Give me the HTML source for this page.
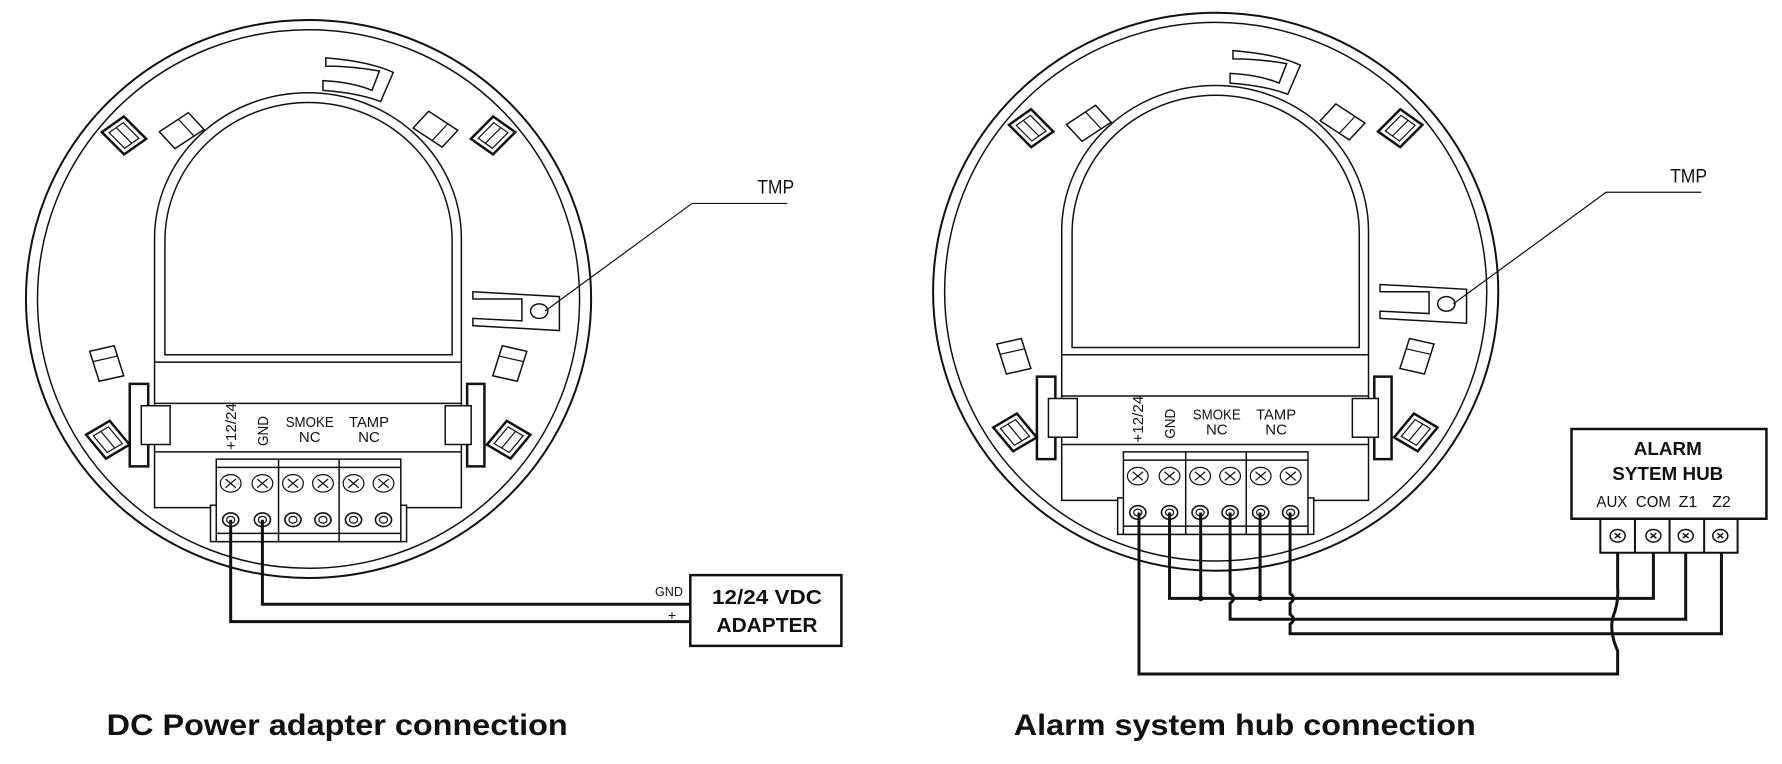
<!DOCTYPE html>
<html><head><meta charset="utf-8"><style>
html,body{margin:0;padding:0;background:#fff;width:1782px;height:764px;overflow:hidden}
svg{display:block}
svg *{vector-effect:non-scaling-stroke}
text{font-family:"Liberation Sans",sans-serif;fill:#111}
</style></head><body>
<svg width="1782" height="764" viewBox="0 0 1782 764" xmlns="http://www.w3.org/2000/svg">
<defs>
<g id="sq"><rect x="-25" y="-30" width="50" height="60" fill="none" stroke="#111" stroke-width="2.5"/><rect x="-16" y="-21" width="32" height="42" fill="none" stroke="#111" stroke-width="1.2"/><line x1="0" y1="-21" x2="0" y2="21" stroke="#111" stroke-width="1.2"/></g>
<g id="pl"><rect x="-32" y="-22" width="64" height="44" fill="none" stroke="#111" stroke-width="1.5"/><line x1="10" y1="-22" x2="10" y2="22" stroke="#111" stroke-width="1.2"/></g>
<g id="scr"><circle r="18" fill="none" stroke="#111" stroke-width="1.2"/><path d="M-9,-9 L9,9 M9,-9 L-9,9" stroke="#111" stroke-width="1.2"/></g>
<g id="scb"><circle r="14" fill="none" stroke="#111" stroke-width="1.6"/><circle r="7" fill="none" stroke="#111" stroke-width="1.2"/></g>
<g id="dev" fill="none" stroke="#111" stroke-width="1.5">
<ellipse cx="535" cy="615" rx="490" ry="575" stroke-width="2"/>
<ellipse cx="535" cy="615" rx="470" ry="555"/>
<path d="M268,745 L268,490 A266,300 0 0 1 800,490 L800,745"/>
<path d="M286,730 L286,495 A249,285 0 0 1 784,495 L784,730 Z"/>
<rect x="268" y="745" width="532" height="300"/>
<line x1="268" y1="830" x2="800" y2="830"/>
<line x1="268" y1="930" x2="800" y2="930"/>
<rect x="225" y="790" width="32" height="170" stroke-width="2.5" fill="#fff"/>
<rect x="245" y="835" width="50" height="80" fill="#fff"/>
<rect x="810" y="790" width="30" height="170" stroke-width="2.5" fill="#fff"/>
<rect x="772" y="835" width="45" height="80" fill="#fff"/>
<rect x="365" y="1040" width="340" height="75" fill="#fff"/>
<rect x="375" y="945" width="320" height="170" fill="#fff"/>
<line x1="375" y1="962" x2="695" y2="962"/>
<line x1="483" y1="945" x2="483" y2="1115"/>
<line x1="588" y1="945" x2="588" y2="1115"/>
<line x1="375" y1="1098" x2="695" y2="1098"/>
<use href="#scr" x="400" y="995"/><use href="#scr" x="455" y="995"/><use href="#scr" x="508" y="995"/><use href="#scr" x="560" y="995"/><use href="#scr" x="613" y="995"/><use href="#scr" x="665" y="995"/>
<use href="#scb" x="400" y="1070"/><use href="#scb" x="455" y="1070"/><use href="#scb" x="508" y="1070"/><use href="#scb" x="560" y="1070"/><use href="#scb" x="613" y="1070"/><use href="#scb" x="665" y="1070"/>
<path d="M565,118 Q640,125 682,148 L660,208 Q620,190 560,185 L560,165 Q610,168 645,185 L658,145 Q610,135 565,135 Z"/>
<path d="M820,600 L970,610 L970,680 L820,670 L820,655 L905,660 L905,615 L820,615 Z"/>
<circle cx="935" cy="640" r="15"/>
<use href="#sq" transform="translate(215,278) rotate(-40)"/>
<use href="#sq" transform="translate(855,278) rotate(40)"/>
<use href="#sq" transform="translate(187,905) rotate(-35)"/>
<use href="#sq" transform="translate(882,905) rotate(35)"/>
<use href="#pl" transform="translate(315,268) rotate(-38)"/>
<use href="#pl" transform="translate(755,265) rotate(38)"/>
<use href="#pl" transform="translate(185,748) rotate(-105)"/>
<use href="#pl" transform="translate(884,748) rotate(-75)"/>
</g>
<g id="lbl" stroke="none">
<text transform="translate(236,450) rotate(-90)" font-size="15" textLength="47" lengthAdjust="spacingAndGlyphs">+12/24</text>
<text transform="translate(268,446) rotate(-90)" font-size="15" textLength="30" lengthAdjust="spacingAndGlyphs">GND</text>
<text x="309.7" y="427" font-size="15" text-anchor="middle" textLength="48" lengthAdjust="spacingAndGlyphs">SMOKE</text>
<text x="309.7" y="442" font-size="15" text-anchor="middle">NC</text>
<text x="369" y="427" font-size="15" text-anchor="middle" textLength="40" lengthAdjust="spacingAndGlyphs">TAMP</text>
<text x="369" y="442" font-size="15" text-anchor="middle">NC</text>
</g>
</defs>

<g transform="translate(0,0.6) scale(0.5767,0.4852)">
<use href="#dev"/>
<path d="M945,640 L1200,418 L1365,418" fill="none" stroke="#111" stroke-width="1.2"/>
<path d="M400,1070 V1280 H1197 M455,1070 V1244 H1197" fill="none" stroke="#111" stroke-width="3"/>
<rect x="1197" y="1184" width="262" height="146" fill="none" stroke="#111" stroke-width="2.5"/>
</g>
<use href="#lbl"/>
<text x="775.7" y="193.7" font-size="19" text-anchor="middle" textLength="37" lengthAdjust="spacingAndGlyphs">TMP</text>
<text x="767" y="604" font-size="20" font-weight="bold" text-anchor="middle" textLength="110" lengthAdjust="spacingAndGlyphs">12/24 VDC</text>
<text x="767" y="632" font-size="20" font-weight="bold" text-anchor="middle" textLength="101" lengthAdjust="spacingAndGlyphs">ADAPTER</text>
<text x="669" y="596" font-size="13" text-anchor="middle" textLength="28" lengthAdjust="spacingAndGlyphs">GND</text>
<text x="672" y="620" font-size="14" text-anchor="middle">+</text>
<text x="106.7" y="735" font-size="30" font-weight="bold" textLength="461" lengthAdjust="spacingAndGlyphs">DC Power adapter connection</text>

<g transform="translate(891,0.6) scale(0.5767,0.4852)">
<g transform="translate(28,-15)"><use href="#dev"/></g>
<path d="M975,625 L1240,395 L1405,395" fill="none" stroke="#111" stroke-width="1.2"/>
<g fill="none" stroke="#111" stroke-width="3">
<path d="M430,1055 V1388 H1260 V1340 Q1245,1300 1252,1270 Q1262,1240 1260,1210 V1138"/>
<path d="M483,1055 V1232 H1322 V1138"/>
<path d="M537,1055 V1232 M640,1055 V1232"/>
<path d="M588,1055 V1222 Q600,1232 588,1242 V1275 H1378 V1138"/>
<path d="M692,1055 V1222 Q704,1232 692,1242 V1265 Q704,1275 692,1285 V1305 H1440 V1138"/>
</g>
<ellipse cx="537" cy="1232" rx="5" ry="6" fill="#111"/><ellipse cx="640" cy="1232" rx="5" ry="6" fill="#111"/>
<rect x="1180" y="883" width="338" height="185" fill="none" stroke="#111" stroke-width="2.5"/>
<rect x="1230" y="1068" width="238" height="70" fill="none" stroke="#111" stroke-width="2"/>
<path d="M1290,1068 V1138 M1350,1068 V1138 M1410,1068 V1138" stroke="#111" stroke-width="2"/>
<g fill="none" stroke="#111" stroke-width="1.5">
<circle cx="1260" cy="1103" r="13"/><circle cx="1322" cy="1103" r="13"/><circle cx="1378" cy="1103" r="13"/><circle cx="1438" cy="1103" r="13"/>
<path d="M1255,1098 l10,10 m0,-10 l-10,10 M1317,1098 l10,10 m0,-10 l-10,10 M1373,1098 l10,10 m0,-10 l-10,10 M1433,1098 l10,10 m0,-10 l-10,10"/>
</g>
</g>
<use href="#lbl" transform="translate(907.1,-7.3)"/>
<text x="1688.6" y="182.6" font-size="19" text-anchor="middle" textLength="37" lengthAdjust="spacingAndGlyphs">TMP</text>
<text x="1667.8" y="455" font-size="18" font-weight="bold" text-anchor="middle" textLength="68" lengthAdjust="spacingAndGlyphs">ALARM</text>
<text x="1667.8" y="480" font-size="18" font-weight="bold" text-anchor="middle" textLength="111" lengthAdjust="spacingAndGlyphs">SYTEM HUB</text>
<text x="1611.9" y="507" font-size="16" text-anchor="middle" textLength="31" lengthAdjust="spacingAndGlyphs">AUX</text>
<text x="1653.4" y="507" font-size="16" text-anchor="middle" textLength="35" lengthAdjust="spacingAndGlyphs">COM</text>
<text x="1688" y="507" font-size="16" text-anchor="middle">Z1</text>
<text x="1721.5" y="507" font-size="16" text-anchor="middle">Z2</text>
<text x="1013.8" y="735" font-size="30" font-weight="bold" textLength="462" lengthAdjust="spacingAndGlyphs">Alarm system hub connection</text>
</svg>
</body></html>
